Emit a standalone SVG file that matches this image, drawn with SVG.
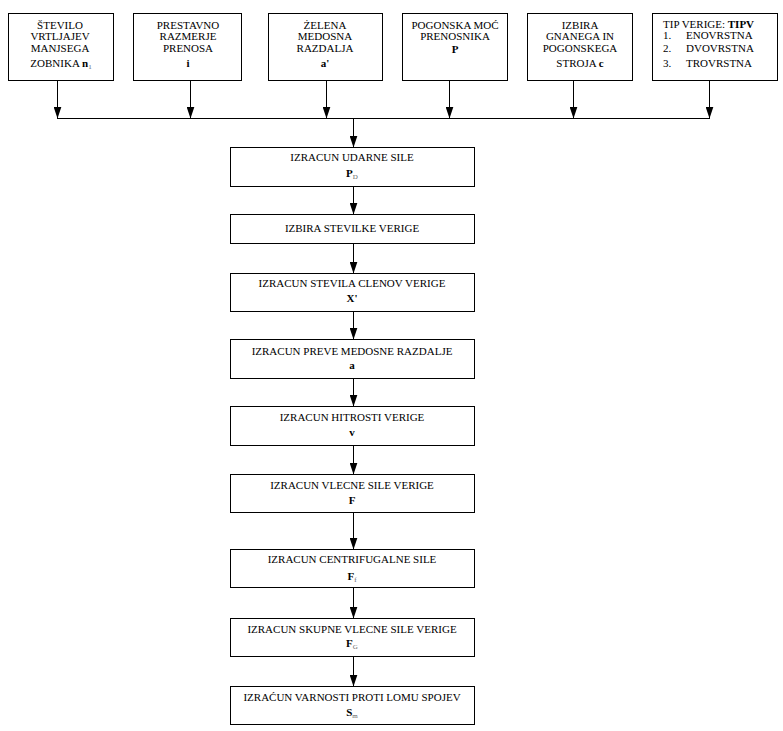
<svg xmlns="http://www.w3.org/2000/svg" width="783" height="731" viewBox="0 0 783 731">
<defs>
<marker id="arr" markerUnits="userSpaceOnUse" markerWidth="12" markerHeight="8" viewBox="0 0 12 8" refX="12" refY="4" orient="auto">
<path d="M0,0 L12,4 L0,8 z" fill="#000"/>
</marker>
</defs>
<style>
.box{fill:#fff;stroke:#000;stroke-width:1}
.t{font-family:"Liberation Serif","Times New Roman",serif;font-size:11px;fill:#000}
.c{text-anchor:middle}
.b{font-weight:bold}
.s{font-size:7px;fill:#666;font-weight:normal}
.ln{stroke:#000;stroke-width:1;fill:none}
</style>
<rect width="783" height="731" fill="#fff"/>
<g id="n1"><rect class="box" x="8.5" y="13.5" width="105" height="67"/>
<text class="t c" x="60" y="29">ŠTEVILO</text><text class="t c" x="60" y="40">VRTLJAJEV</text><text class="t c" x="60" y="52">MANJSEGA</text><text class="t c" x="61" y="67">ZOBNIKA <tspan class="b">n</tspan><tspan class="s" dy="2">1</tspan></text></g>
<g id="n2"><rect class="box" x="133.5" y="13.5" width="108" height="67"/>
<text class="t c" x="188" y="29">PRESTAVNO</text><text class="t c" x="188" y="40">RAZMERJE</text><text class="t c" x="188" y="52">PRENOSA</text><text class="t c b" x="188" y="67">i</text></g>
<g id="n3"><rect class="box" x="268.5" y="13.5" width="114" height="67"/>
<text class="t c" x="325" y="29">ŻELENA</text><text class="t c" x="325" y="40">MEDOSNA</text><text class="t c" x="325" y="52">RAZDALJA</text><text class="t c b" x="325" y="67">a'</text></g>
<g id="n4"><rect class="box" x="402.5" y="13.5" width="105" height="67"/>
<text class="t c" x="455" y="29">POGONSKA MOĆ</text><text class="t c" x="455" y="40">PRENOSNIKA</text><text class="t c b" x="455" y="53">P</text></g>
<g id="n5"><rect class="box" x="527.5" y="13.5" width="105" height="67"/>
<text class="t c" x="580" y="29">IZBIRA</text><text class="t c" x="580" y="40">GNANEGA IN</text><text class="t c" x="580" y="52">POGONSKEGA</text><text class="t c" x="580" y="67">STROJA <tspan class="b">c</tspan></text></g>
<g id="n6"><rect class="box" x="652.5" y="13.5" width="125" height="67"/>
<text class="t" x="663" y="27.5">TIP VERIGE: <tspan class="b">TIPV</tspan></text>
<text class="t" x="663" y="39">1.</text><text class="t" x="686" y="39">ENOVRSTNA</text>
<text class="t" x="663" y="52">2.</text><text class="t" x="686" y="52">DVOVRSTNA</text>
<text class="t" x="663" y="67">3.</text><text class="t" x="686" y="67">TROVRSTNA</text></g>
<g id="nA"><rect class="box" x="230.5" y="147.5" width="244" height="39"/>
<text class="t c" x="352" y="161">IZRACUN UDARNE SILE</text><text class="t c" x="352" y="177"><tspan class="b">P</tspan><tspan class="s" dy="2">D</tspan></text></g>
<g id="nB"><rect class="box" x="230.5" y="214.5" width="244" height="29"/>
<text class="t c" x="352" y="232">IZBIRA STEVILKE VERIGE</text></g>
<g id="nC"><rect class="box" x="230.5" y="273.5" width="244" height="38"/>
<text class="t c" x="352" y="287">IZRACUN STEVILA CLENOV VERIGE</text><text class="t c b" x="352" y="302">X'</text></g>
<g id="nD"><rect class="box" x="230.5" y="339.5" width="244" height="39"/>
<text class="t c" x="352" y="355">IZRACUN PREVE MEDOSNE RAZDALJE</text><text class="t c b" x="352" y="369">a</text></g>
<g id="nE"><rect class="box" x="230.5" y="406.5" width="244" height="39"/>
<text class="t c" x="352" y="421">IZRACUN HITROSTI VERIGE</text><text class="t c b" x="352" y="436">v</text></g>
<g id="nF"><rect class="box" x="230.5" y="474.5" width="244" height="38"/>
<text class="t c" x="352" y="489">IZRACUN VLECNE SILE VERIGE</text><text class="t c b" x="352" y="504">F</text></g>
<g id="nG"><rect class="box" x="230.5" y="549.5" width="244" height="38"/>
<text class="t c" x="352" y="563">IZRACUN CENTRIFUGALNE SILE</text><text class="t c" x="352" y="580"><tspan class="b">F</tspan><tspan class="s" dy="2">f</tspan></text></g>
<g id="nH"><rect class="box" x="230.5" y="618.5" width="244" height="38"/>
<text class="t c" x="352" y="633">IZRACUN SKUPNE VLECNE SILE VERIGE</text><text class="t c" x="352" y="647"><tspan class="b">F</tspan><tspan class="s" dy="2">G</tspan></text></g>
<g id="nI"><rect class="box" x="230.5" y="686.5" width="244" height="38"/>
<text class="t c" x="352" y="701">IZRAĆUN VARNOSTI PROTI LOMU SPOJEV</text><text class="t c" x="352" y="716"><tspan class="b">S</tspan><tspan class="s" dy="2">m</tspan></text></g>
<g id="connectors">
<line class="ln" x1="57.5" y1="80.5" x2="57.5" y2="118.5" marker-end="url(#arr)"/>
<line class="ln" x1="190.5" y1="80.5" x2="190.5" y2="118.5" marker-end="url(#arr)"/>
<line class="ln" x1="326.5" y1="80.5" x2="326.5" y2="118.5" marker-end="url(#arr)"/>
<line class="ln" x1="449.5" y1="80.5" x2="449.5" y2="118.5" marker-end="url(#arr)"/>
<line class="ln" x1="573.5" y1="80.5" x2="573.5" y2="118.5" marker-end="url(#arr)"/>
<line class="ln" x1="709.5" y1="80.5" x2="709.5" y2="118.5" marker-end="url(#arr)"/>
<line class="ln" x1="57" y1="118.5" x2="710" y2="118.5"/>
<line class="ln" x1="353.5" y1="118.5" x2="353.5" y2="147.5" marker-end="url(#arr)"/>
<line class="ln" x1="353.5" y1="186.5" x2="353.5" y2="214.5" marker-end="url(#arr)"/>
<line class="ln" x1="353.5" y1="243.5" x2="353.5" y2="273.5" marker-end="url(#arr)"/>
<line class="ln" x1="353.5" y1="311.5" x2="353.5" y2="339.5" marker-end="url(#arr)"/>
<line class="ln" x1="353.5" y1="378.5" x2="353.5" y2="406.5" marker-end="url(#arr)"/>
<line class="ln" x1="353.5" y1="445.5" x2="353.5" y2="474.5" marker-end="url(#arr)"/>
<line class="ln" x1="353.5" y1="512.5" x2="353.5" y2="549.5" marker-end="url(#arr)"/>
<line class="ln" x1="353.5" y1="587.5" x2="353.5" y2="618.5" marker-end="url(#arr)"/>
<line class="ln" x1="353.5" y1="656.5" x2="353.5" y2="686.5" marker-end="url(#arr)"/>
</g>
</svg>
